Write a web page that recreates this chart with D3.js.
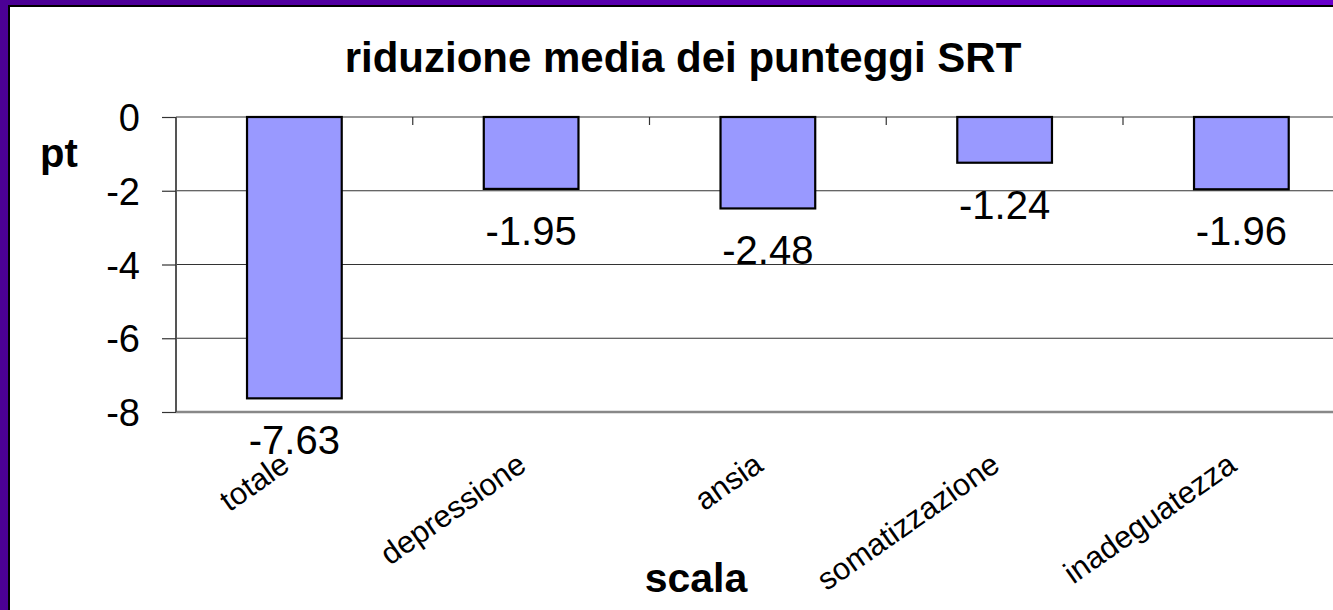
<!DOCTYPE html>
<meta charset="utf-8">
<head>
<title>riduzione media dei punteggi SRT</title>
<style>
  body { margin: 0; background: #fff; }
  svg { display: block; font-family: "Liberation Sans", Arial, Helvetica, sans-serif; }
  .grid line { stroke: #333; stroke-width: 1.2; }
  .yaxis text { font-size: 38px; fill: #000; }
  .yaxis line { stroke: #333; stroke-width: 1.2; }
  .yaxis path { stroke: #555; stroke-width: 2; }
  .bar { fill: #9999ff; stroke: #000; stroke-width: 2.2; }
  .vlabel { font-size: 40px; fill: #000; text-anchor: middle; }
  .clabel { font-size: 31px; fill: #000; text-anchor: end; }
</style>
</head>
<body>
<script src="https://cdn.jsdelivr.net/npm/d3@7"></script>
<script>

// data
var categories = ["totale", "depressione", "ansia", "somatizzazione", "inadeguatezza"];
var values = [-7.63, -1.95, -2.48, -1.24, -1.96];
var yTicks = [0, -2, -4, -6, -8];

var W = 1333, H = 610;

var svg = d3.select("body").append("svg")
    .attr("width", W)
    .attr("height", H);

// purple frame
var grad = svg.append("defs").append("linearGradient")
    .attr("id", "frame").attr("x1", 0).attr("x2", 1).attr("y1", 0).attr("y2", 0);
grad.append("stop").attr("offset", 0).attr("stop-color", "#4b0094");
grad.append("stop").attr("offset", 1).attr("stop-color", "#6800cc");

svg.append("rect").attr("width", W).attr("height", H).attr("fill", "url(#frame)");
svg.append("rect").attr("x", 8).attr("y", 5).attr("width", W).attr("height", H).attr("fill", "#000");
svg.append("rect").attr("x", 10).attr("y", 7).attr("width", W).attr("height", H).attr("fill", "#fff");

// scales (plot runs off the right edge, as in the picture)
var left = 176, step = 236.75;
var x = d3.scaleBand()
    .domain(categories)
    .range([left, left + step * categories.length])
    .padding(0);
var y = d3.scaleLinear()
    .domain([-8, 0])
    .range([412, 117]);

// gridlines
svg.append("g").attr("class", "grid")
  .selectAll("line")
  .data(yTicks.filter(function(d) { return d != -8; }))
  .enter().append("line")
    .attr("x1", left).attr("x2", W)
    .attr("y1", function(d) { return y(d); })
    .attr("y2", function(d) { return y(d); });

// category ticks on the zero line
svg.append("g").attr("class", "grid")
  .selectAll("line")
  .data(categories)
  .enter().append("line")
    .attr("x1", function(d) { return x(d) + x.bandwidth(); })
    .attr("x2", function(d) { return x(d) + x.bandwidth(); })
    .attr("y1", y(0)).attr("y2", y(0) + 8);

// bottom line at -8
svg.append("line")
    .attr("x1", left).attr("x2", W)
    .attr("y1", y(-8)).attr("y2", y(-8))
    .attr("stroke", "#888").attr("stroke-width", 2.5);

// y axis
svg.append("g")
    .attr("class", "yaxis")
    .attr("transform", "translate(" + left + ",0)")
    .call(d3.axisLeft(y).tickValues(yTicks).tickSize(14).tickPadding(22)
      .tickFormat(function(d) { return String(d); }))
    .call(function(g) { g.select(".domain").attr("d", "M0," + y(0) + "V" + y(-8)); })
    .selectAll("text").attr("dy", "0.36em");

// bars
var bw = x.bandwidth() * 0.4;
svg.selectAll(".bar")
    .data(values)
  .enter().append("rect")
    .attr("class", "bar")
    .attr("x", function(d, i) { return x(categories[i]) + (x.bandwidth() - bw) / 2; })
    .attr("width", bw)
    .attr("y", y(0))
    .attr("height", function(d) { return y(d) - y(0); });

// value labels under the bars
svg.selectAll(".vlabel")
    .data(values)
  .enter().append("text")
    .attr("class", "vlabel")
    .attr("x", function(d, i) { return x(categories[i]) + x.bandwidth() / 2; })
    .attr("y", function(d) { return y(d) + 56; })
    .text(function(d) { return d.toFixed(2); });

// rotated category labels
svg.selectAll(".clabel")
    .data(categories)
  .enter().append("text")
    .attr("class", "clabel")
    .attr("transform", function(d) {
      return "translate(" + (x(d) + x.bandwidth() / 2 - 3) + ",469) rotate(-35)";
    })
    .text(function(d) { return d; });

// titles
svg.append("text")
    .attr("x", 683).attr("y", 72)
    .attr("text-anchor", "middle")
    .style("font-size", "42px").style("font-weight", "bold")
    .text("riduzione media dei punteggi SRT");

svg.append("text")
    .attr("x", 40).attr("y", 167)
    .style("font-size", "40px").style("font-weight", "bold")
    .text("pt");

svg.append("text")
    .attr("x", 696).attr("y", 592)
    .attr("text-anchor", "middle")
    .style("font-size", "41px").style("font-weight", "bold")
    .text("scala");

</script>
</body>
